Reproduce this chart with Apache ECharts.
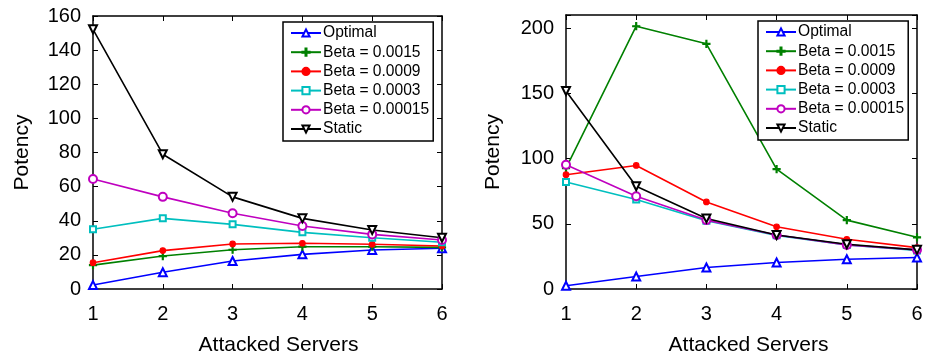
<!DOCTYPE html>
<html>
<head>
<meta charset="utf-8">
<script src="https://cdn.jsdelivr.net/npm/echarts@6/dist/echarts.min.js"></script>
<style>
html, body { margin: 0; padding: 0; background: #fff; }
#chart { width: 926px; height: 359px; }
</style>
</head>
<body>
<div id="chart"></div>
<script>
var servers = [1, 2, 3, 4, 5, 6];
var seriesNames = ['Optimal', 'Beta = 0.0015', 'Beta = 0.0009', 'Beta = 0.0003', 'Beta = 0.00015', 'Static'];

// left plot
var leftOptimal = [2.3, 9.8, 16.4, 20.3, 22.9, 23.9];
var leftBeta0015 = [14, 19.3, 23, 24.8, 24.8, 24.4];
var leftBeta0009 = [15.4, 22.5, 26.4, 26.8, 26.2, 25.2];
var leftBeta0003 = [35, 41.4, 37.9, 33.2, 30, 27.4];
var leftBeta00015 = [64.5, 54, 44.4, 36.9, 32, 28.7];
var leftStatic = [152.2, 79, 54, 41.4, 34.6, 30];

// right plot
var rightOptimal = [2.5, 9.6, 16.5, 20.3, 22.8, 24.1];
var rightBeta0015 = [92.7, 201.4, 187.9, 91.9, 52.8, 39.6];
var rightBeta0009 = [87.6, 94.7, 66.7, 47.7, 38.1, 31.7];
var rightBeta0003 = [82, 68.6, 52.3, 41.1, 33.8, 29.5];
var rightBeta00015 = [95.2, 71.1, 52.8, 41.4, 33.8, 30];
var rightStatic = [151.8, 78.7, 54.1, 41.4, 34.3, 30];

var leftYTicks = [0, 20, 40, 60, 80, 100, 120, 140, 160];
var rightYTicks = [0, 50, 100, 150, 200];

var colors = ['#0000ff', '#008000', '#ff0000', '#00bfbf', '#bf00bf', '#000000'];
var plusPath = 'path://M4.3,0 L5.7,0 L5.7,4.3 L10,4.3 L10,5.7 L5.7,5.7 L5.7,10 L4.3,10 L4.3,5.7 L0,5.7 L0,4.3 L4.3,4.3 Z';
var symbols = ['emptyTriangle', plusPath, 'circle', 'emptyRect', 'emptyCircle', 'emptyTriangle'];
var symbolSizes = [8, 7, 5.5, 6, 8, 8];
var symbolRotates = [0, 0, 0, 0, 0, 180];

var font = 'Liberation Sans, Arial, sans-serif';

function toPairs(vals) {
	var arr = [];
	for (var i = 0; i < servers.length; i++) {
		arr.push([servers[i], vals[i]]);
	}
	return arr;
}

function makeSeries(idx, list) {
	var out = [];
	for (var i = 0; i < list.length; i++) {
		out.push({
			name: seriesNames[i],
			type: 'line',
			xAxisIndex: idx * 2,
			yAxisIndex: idx * 2,
			data: toPairs(list[i]),
			symbol: symbols[i],
			symbolSize: symbolSizes[i],
			symbolRotate: symbolRotates[i],
			color: colors[i],
			lineStyle: { color: colors[i], width: 1.6 },
			itemStyle: { color: colors[i], borderColor: colors[i], borderWidth: 1.2 },
			animation: false
		});
	}
	return out;
}

function xAxes(grid, namePad) {
	return [{
		type: 'value', gridIndex: grid, min: 1, max: 6, interval: 1,
		name: 'Attacked Servers', nameLocation: 'middle', nameGap: 46,
		nameTextStyle: { fontSize: 21, color: '#000', fontFamily: font, padding: [0, 0, 0, namePad] },
		axisLine: { show: true, onZero: false, lineStyle: { color: '#000', width: 1.5 } },
		axisTick: { show: true, inside: true, length: 5, lineStyle: { color: '#000' } },
		axisLabel: { fontSize: 20, color: '#000', fontFamily: font, margin: 15 },
		splitLine: { show: false }
	}, {
		type: 'value', gridIndex: grid, min: 1, max: 6, interval: 1, position: 'top',
		axisLine: { show: true, onZero: false, lineStyle: { color: '#000', width: 1.5 } },
		axisTick: { show: true, inside: true, length: 5, lineStyle: { color: '#000' } },
		axisLabel: { show: false },
		splitLine: { show: false }
	}];
}

function yAxes(grid, max, step, ticks, gap) {
	var fmt = function(v) {
		return ticks.indexOf(v) >= 0 ? String(v) : '';
	};
	return [{
		type: 'value', gridIndex: grid, min: 0, max: max, interval: step,
		name: 'Potency', nameLocation: 'middle', nameGap: gap,
		nameTextStyle: { fontSize: 21, color: '#000', fontFamily: font },
		axisLine: { show: true, onZero: false, lineStyle: { color: '#000', width: 1.5 } },
		axisTick: { show: true, inside: true, length: 5, lineStyle: { color: '#000' } },
		axisLabel: { fontSize: 20, color: '#000', fontFamily: font, margin: 12, formatter: fmt },
		splitLine: { show: false }
	}, {
		type: 'value', gridIndex: grid, min: 0, max: max, interval: step, position: 'right',
		axisLine: { show: true, onZero: false, lineStyle: { color: '#000', width: 1.5 } },
		axisTick: { show: true, inside: true, length: 5, lineStyle: { color: '#000' } },
		axisLabel: { show: false },
		splitLine: { show: false }
	}];
}

function makeLegend(left, top) {
	return {
		data: seriesNames,
		orient: 'vertical',
		left: left,
		top: top,
		itemWidth: 30,
		itemHeight: 9,
		itemGap: 3.2,
		padding: [3, 4, 4, 7],
		backgroundColor: '#fff',
		borderColor: '#000',
		borderWidth: 1.5,
		selectedMode: false,
		textStyle: { fontSize: 15.6, color: '#000', fontFamily: font, padding: [0, 0, 0, -3] }
	};
}

var chart = echarts.init(document.getElementById('chart'));
var option = {
	backgroundColor: '#fff',
	animation: false,
	grid: [
		{ left: 93, right: 484, top: 16, bottom: 70, outerBoundsMode: 'none' },
		{ left: 566, right: 9, top: 15, bottom: 70, outerBoundsMode: 'none' }
	],
	xAxis: xAxes(0, 22).concat(xAxes(1, 14)),
	yAxis: yAxes(0, 160, 20, leftYTicks, 60).concat(yAxes(1, 210, 50, rightYTicks, 62)),
	legend: [makeLegend(283, 22), makeLegend(758, 21)],
	series: makeSeries(0, [leftOptimal, leftBeta0015, leftBeta0009, leftBeta0003, leftBeta00015, leftStatic])
		.concat(makeSeries(1, [rightOptimal, rightBeta0015, rightBeta0009, rightBeta0003, rightBeta00015, rightStatic]))
};
chart.setOption(option);
</script>
</body>
</html>
